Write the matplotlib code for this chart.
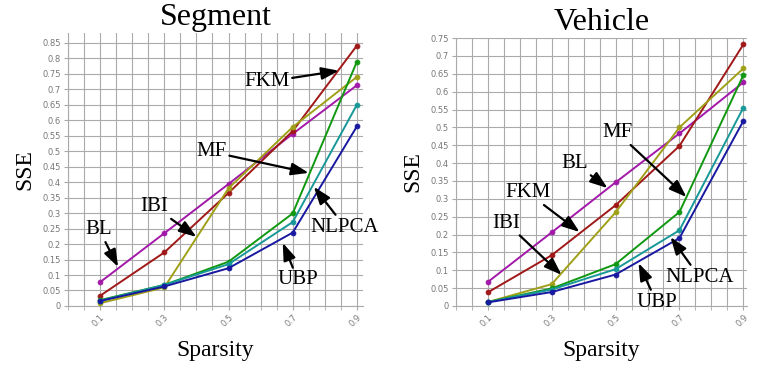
import numpy as np
import matplotlib
matplotlib.use('Agg')
import matplotlib.pyplot as plt
from matplotlib.ticker import MultipleLocator, FixedLocator

#%% data
sparsity = [0.1, 0.3, 0.5, 0.7, 0.9]
methods = ['BL', 'FKM', 'IBI', 'MF', 'NLPCA', 'UBP']
colors = ['#a218a8', '#a01818', '#a0a018', '#109810', '#189898', '#1818a0']

seg_BL = [0.077, 0.235, 0.394, 0.556, 0.713]
seg_FKM = [0.033, 0.173, 0.365, 0.565, 0.841]
seg_IBI = [0.009, 0.060, 0.380, 0.578, 0.740]
seg_MF = [0.019, 0.068, 0.143, 0.299, 0.789]
seg_NLPCA = [0.017, 0.068, 0.135, 0.271, 0.650]
seg_UBP = [0.016, 0.063, 0.122, 0.237, 0.580]

veh_BL = [0.067, 0.206, 0.346, 0.483, 0.626]
veh_FKM = [0.038, 0.142, 0.282, 0.448, 0.732]
veh_IBI = [0.011, 0.061, 0.262, 0.500, 0.665]
veh_MF = [0.011, 0.049, 0.117, 0.263, 0.646]
veh_NLPCA = [0.011, 0.046, 0.103, 0.212, 0.555]
veh_UBP = [0.010, 0.039, 0.088, 0.190, 0.518]

xtick_labels = ['0.1', '0.3', '0.5', '0.7', '0.9']

# label text position, arrow tip (data units)
seg_notes = {'FKM': ((0.619, 0.724), (0.844, 0.760)),
             'MF': ((0.447, 0.498), (0.750, 0.430)),
             'IBI': ((0.269, 0.320), (0.400, 0.223)),
             'BL': ((0.097, 0.246), (0.156, 0.126)),
             'NLPCA': ((0.863, 0.255), (0.766, 0.385)),
             'UBP': ((0.716, 0.084), (0.669, 0.204))}
veh_notes = {'MF': ((0.506, 0.485), (0.722, 0.305)),
             'BL': ((0.372, 0.400), (0.475, 0.330)),
             'FKM': ((0.225, 0.317), (0.3875, 0.207)),
             'IBI': ((0.159, 0.232), (0.331, 0.087)),
             'NLPCA': ((0.7625, 0.081), (0.672, 0.193)),
             'UBP': ((0.628, 0.011), (0.572, 0.120))}

serif = 'Liberation Serif'

#%%
def panel(ax, series, notes, title, xmax, ymax):
    for vals, c in zip(series, colors):
        ax.plot(sparsity, vals, '-', color=c, lw=1.4, marker='o', ms=3.5,
                mfc=c, mec=c, mew=0.6, zorder=3)
    ax.set_xlim(0, xmax)
    ax.set_ylim(0, ymax)
    ax.xaxis.set_major_locator(FixedLocator(sparsity))
    ax.xaxis.set_minor_locator(MultipleLocator(0.05))
    ax.yaxis.set_major_locator(MultipleLocator(0.05))
    ax.set_xticklabels(xtick_labels, rotation=45, ha='right', va='top',
                       rotation_mode='anchor')
    ax.yaxis.set_major_formatter(matplotlib.ticker.FuncFormatter(lambda v, p: '%g' % round(v, 2)))
    ax.grid(True, which='both', color='#aaaaaa', lw=0.8)
    ax.tick_params(which='both', length=3, color='#aaaaaa', labelcolor='#777777',
                   labelsize=6, pad=2)
    for s in ['top', 'right']:
        ax.spines[s].set_visible(False)
    for s in ['left', 'bottom']:
        ax.spines[s].set_color('#aaaaaa')
        ax.spines[s].set_linewidth(0.8)
    ax.set_axisbelow(True)
    ax.set_title(title, family=serif, fontsize=23, pad=6)
    ax.set_xlabel('Sparsity', family=serif, fontsize=17, labelpad=8)
    ax.set_ylabel('SSE', family=serif, fontsize=17, labelpad=5)
    for name, (txt, tip) in notes.items():
        ax.annotate(name, xy=tip, xytext=txt, family=serif, fontsize=15,
                    ha='center', va='center', zorder=5,
                    arrowprops=dict(arrowstyle='-|>,head_length=0.7,head_width=0.25',
                                    color='black', lw=1.6, shrinkA=0, shrinkB=0))


fig = plt.figure(figsize=(7.61, 3.66), dpi=100)
ax1 = fig.add_axes([0.0894, 0.164, 0.388, 0.746])
ax2 = fig.add_axes([0.599, 0.164, 0.382, 0.732])

panel(ax1, [seg_BL, seg_FKM, seg_IBI, seg_MF, seg_NLPCA, seg_UBP], seg_notes,
      'Segment', 0.92, 0.882)
panel(ax2, [veh_BL, veh_FKM, veh_IBI, veh_MF, veh_NLPCA, veh_UBP], veh_notes,
      'Vehicle', 0.91, 0.75)

fig.savefig('out.png', dpi=100)
